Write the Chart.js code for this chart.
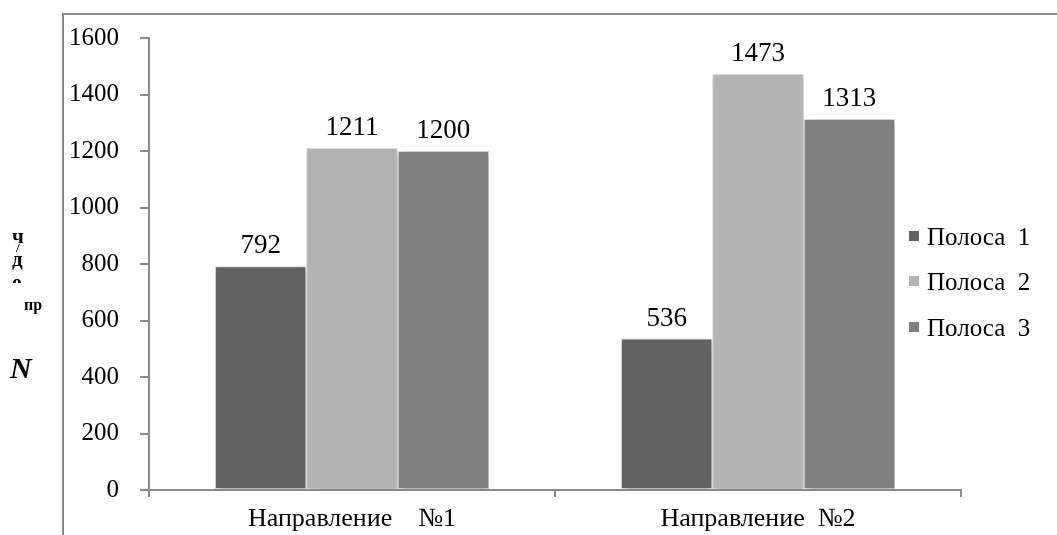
<!DOCTYPE html>
<html>
<head>
<meta charset="utf-8">
<script src="https://cdn.jsdelivr.net/npm/chart.js@4"></script>
<style>
  html, body { margin: 0; padding: 0; background: #fff; }
  #wrap { width: 1057px; height: 535px; }
</style>
</head>
<body>
<div id="wrap"><canvas id="chart"></canvas></div>
<script>
// данные с графика
const categories = ['Направление    №1', 'Направление  №2'];
const seriesNames = ['Полоса  1', 'Полоса  2', 'Полоса  3'];
const lane1 = [792, 536];
const lane2 = [1211, 1473];
const lane3 = [1200, 1313];
const yTicks = [0, 200, 400, 600, 800, 1000, 1200, 1400, 1600];

const colors = ['#626262', '#b3b3b3', '#808080'];
const serif = "'Liberation Serif', 'Times New Roman', serif";

// рамка, подпись оси Y, легенда
const decor = {
  id: 'decor',
  beforeDraw(chart) {
    const ctx = chart.ctx;
    ctx.save();
    ctx.strokeStyle = '#8a8a8a';
    ctx.lineWidth = 2;
    ctx.beginPath();
    ctx.moveTo(63, 535);
    ctx.lineTo(63, 14);
    ctx.lineTo(1057, 14);
    ctx.stroke();
    ctx.restore();
  },
  beforeDatasetsDraw(chart) {
    const ctx = chart.ctx;
    ctx.save();
    ctx.shadowColor = 'rgba(0,0,0,0.3)';
    ctx.shadowBlur = 7;
    ctx.shadowOffsetX = 2;
    ctx.shadowOffsetY = 2;
  },
  afterDatasetsDraw(chart) {
    const ctx = chart.ctx;
    ctx.restore();
    ctx.save();
    ctx.fillStyle = '#000';
    ctx.font = '27px ' + serif;
    ctx.textAlign = 'center';
    ctx.textBaseline = 'alphabetic';
    chart.data.datasets.forEach((ds, i) => {
      const meta = chart.getDatasetMeta(i);
      meta.data.forEach((bar, j) => {
        ctx.fillText(ds.data[j], bar.x, bar.y - 13);
      });
    });
    ctx.restore();
  },
  afterDraw(chart) {
    const ctx = chart.ctx;
    ctx.save();
    ctx.fillStyle = '#000';
    // подпись оси Y (как на исходнике, частично обрезана)
    ctx.textAlign = 'left';
    ctx.textBaseline = 'alphabetic';
    ctx.font = 'italic bold 30px ' + serif;
    ctx.fillText('N', 10, 378);
    ctx.font = 'bold 16px ' + serif;
    ctx.fillText('пр', 24, 310);
    ctx.font = 'bold 21px ' + serif;
    ctx.fillText('ч', 12, 243);
    ctx.font = 'bold 13px ' + serif;
    ctx.fillText('/', 16, 252);
    ctx.font = 'bold 21px ' + serif;
    ctx.fillText('д', 12, 266);
    ctx.beginPath();
    ctx.rect(0, 270, 60, 13);
    ctx.clip();
    ctx.fillText('е', 12, 289);
    ctx.restore();

    // легенда
    ctx.save();
    ctx.font = '25px ' + serif;
    ctx.textBaseline = 'middle';
    ctx.textAlign = 'left';
    const rows = [238, 283, 329];
    chart.data.datasets.forEach((ds, i) => {
      ctx.fillStyle = ds.backgroundColor;
      ctx.fillRect(909, rows[i] - 7, 10, 10);
      ctx.fillStyle = '#000';
      ctx.fillText(ds.label, 927, rows[i]);
    });
    ctx.restore();
  }
};

const ctx = document.getElementById('chart');

const myChart = new Chart(ctx, {
  type: 'bar',
  data: {
    labels: categories,
    datasets: [
      { label: seriesNames[0], data: lane1, backgroundColor: colors[0] },
      { label: seriesNames[1], data: lane2, backgroundColor: colors[1] },
      { label: seriesNames[2], data: lane3, backgroundColor: colors[2] },
    ],
  },
  options: {
    responsive: true,
    maintainAspectRatio: false,
    animation: false,
    datasets: {
      bar: {
        categoryPercentage: 0.675,
        barPercentage: 1,
        borderWidth: 1,
        borderColor: '#e4e4e4',
        borderSkipped: false,
      },
    },
    layout: {
      padding: { top: 38, right: 96, bottom: 0, left: 0 },
    },
    scales: {
      y: {
        min: 0,
        max: 1600,
        afterFit(scale) { scale.width = 149; },
        afterBuildTicks(scale) { scale.ticks = yTicks.map(v => ({ value: v })); },
        border: { color: '#8a8a8a', width: 2 },
        grid: {
          drawOnChartArea: false,
          color: '#8a8a8a',
          lineWidth: 2,
          tickLength: 9,
        },
        ticks: {
          color: '#000',
          padding: 21,
          font: { family: serif, size: 25 },
          callback: (v) => String(v),
        },
      },
      x: {
        afterFit(scale) { scale.height = 45; },
        border: { color: '#8a8a8a', width: 2 },
        grid: {
          drawOnChartArea: false,
          color: '#8a8a8a',
          lineWidth: 2,
          tickLength: 7,
        },
        ticks: {
          color: '#000',
          padding: 7,
          font: { family: serif, size: 26 },
        },
      },
    },
    plugins: {
      legend: { display: false },
      tooltip: { enabled: false },
    },
  },
  plugins: [decor],
});
</script>
</body>
</html>
